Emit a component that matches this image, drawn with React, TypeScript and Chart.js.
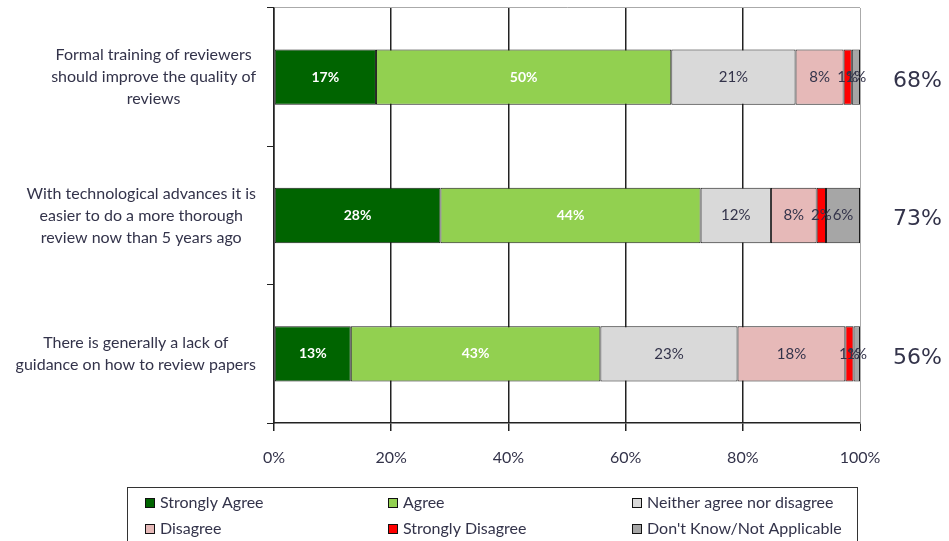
import React, { useEffect, useRef } from 'react';
import { Chart, registerables } from 'chart.js';

Chart.register(...registerables);

const categories: string[][] = [
  ['Formal training of reviewers', 'should improve the quality of', 'reviews'],
  ['With technological advances it is', 'easier to do a more thorough', 'review now than 5 years ago'],
  ['There is generally a lack of', 'guidance on how to review papers'],
];

const seriesNames = [
  'Strongly Agree',
  'Agree',
  'Neither agree nor disagree',
  'Disagree',
  'Strongly Disagree',
  "Don't Know/Not Applicable",
];

const stronglyAgree = [17.4, 28.4, 13.1];
const agree = [50.4, 44.4, 42.6];
const neither = [21.2, 12.0, 23.4];
const disagree = [8.2, 7.8, 18.4];
const stronglyDisagree = [1.4, 1.6, 1.4];
const dontKnow = [1.4, 5.8, 1.1];

const xTicks = [0, 20, 40, 60, 80, 100];

const seriesColors = ['#006400', '#92D050', '#D9D9D9', '#E6B9B8', '#FF0000', '#A6A6A6'];

const TEXT = '#33334a';
const FONT = 'Lato, "DejaVu Sans", sans-serif';

const catLabels = {
  id: 'catLabels',
  afterDraw(chart: any) {
    const ctx = chart.ctx;
    const ys = chart.scales.y;
    const rightEdge = ys.right - 18;
    const lineH = 22;
    ctx.save();
    ctx.font = `16px ${FONT}`;
    ctx.fillStyle = TEXT;
    ctx.textAlign = 'center';
    ctx.textBaseline = 'middle';
    (chart.data.labels as string[][]).forEach((lines, i) => {
      const yc = ys.getPixelForTick(i);
      const widest = Math.max(...lines.map((l) => ctx.measureText(l).width));
      const cx = rightEdge - widest / 2;
      const y0 = yc - ((lines.length - 1) * lineH) / 2;
      lines.forEach((l, k) => ctx.fillText(l, cx, y0 + k * lineH));
    });
    ctx.restore();
  },
};

const segLabels = {
  id: 'segLabels',
  afterDatasetsDraw(chart: any) {
    const ctx = chart.ctx;
    chart.data.datasets.forEach((ds: any, di: number) => {
      const meta = chart.getDatasetMeta(di);
      meta.data.forEach((el: any, i: number) => {
        const v = ds.data[i];
        const p = el.getProps(['x', 'y', 'base'], true);
        const cx = (p.x + p.base) / 2;
        ctx.save();
        ctx.font = di < 2 ? `bold 14px ${FONT}` : `15px ${FONT}`;
        ctx.fillStyle = di < 2 ? '#ffffff' : TEXT;
        ctx.textAlign = 'center';
        ctx.textBaseline = 'middle';
        ctx.fillText(Math.round(v) + '%', cx, p.y);
        ctx.restore();
      });
    });
    // totals of agree + strongly agree on the right
    const meta0 = chart.getDatasetMeta(0);
    meta0.data.forEach((el: any, i: number) => {
      const total = Math.round(stronglyAgree[i] + agree[i]);
      ctx.save();
      ctx.font = `22px "DejaVu Sans", Verdana, sans-serif`;
      ctx.fillStyle = TEXT;
      ctx.textAlign = 'left';
      ctx.textBaseline = 'middle';
      ctx.fillText(total + '%', chart.chartArea.right + 33, el.y + 4);
      ctx.restore();
    });
  },
};

const boxLegend = {
  id: 'boxLegend',
  afterDraw(chart: any) {
    const ctx = chart.ctx;
    const left = 127;
    const top = 487;
    const right = 857;
    ctx.save();
    ctx.strokeStyle = '#333333';
    ctx.lineWidth = 1;
    ctx.strokeRect(left + 0.5, top + 0.5, right - left, 80);
    const cols = [left + 18, left + 261, left + 505];
    const rows = [top + 16, top + 42];
    chart.data.datasets.forEach((ds: any, di: number) => {
      const cx = cols[di % 3];
      const cy = rows[Math.floor(di / 3)];
      ctx.fillStyle = ds.backgroundColor;
      ctx.fillRect(cx, cy - 5, 10, 10);
      ctx.strokeStyle = '#111111';
      ctx.strokeRect(cx + 0.5, cy - 4.5, 9, 9);
      ctx.fillStyle = TEXT;
      ctx.font = `16px ${FONT}`;
      ctx.textAlign = 'left';
      ctx.textBaseline = 'middle';
      ctx.fillText(ds.label, cx + 15, cy);
    });
    ctx.restore();
  },
};

export default function App() {
  const ref = useRef<HTMLCanvasElement | null>(null);
  useEffect(() => {
    document.body.style.margin = '0';
    if (!ref.current) return;
    const series = [stronglyAgree, agree, neither, disagree, stronglyDisagree, dontKnow];
    const chart = new Chart(ref.current, {
      type: 'bar',
      data: {
        labels: categories,
        datasets: series.map((d, i) => ({
          label: seriesNames[i],
          data: d,
          backgroundColor: seriesColors[i],
          borderColor: '#1a1a1a',
          borderWidth: 1,
          borderSkipped: false,
          barPercentage: 0.8,
          categoryPercentage: 0.5,
        })),
      },
      options: {
        indexAxis: 'y',
        responsive: false,
        animation: false,
        devicePixelRatio: 1,
        layout: { padding: { left: 0, right: 89, top: 8, bottom: 63 } },
        plugins: {
          legend: { display: false },
          tooltip: { enabled: false },
        },
        scales: {
          x: {
            stacked: true,
            min: 0,
            max: 100,
            afterBuildTicks: (s: any) => {
              s.ticks = xTicks.map((v) => ({ value: v }));
            },
            afterFit: (s: any) => {
              s.height = 55;
            },
            ticks: {
              callback: (v: any) => v + '%',
              font: { family: FONT, size: 16 },
              color: TEXT,
              padding: 17,
            },
            grid: {
              color: (c: any) => (c.tick && c.tick.value === 100 ? '#aaaaaa' : '#222222'),
              lineWidth: (c: any) => (c.tick && c.tick.value === 100 ? 1 : 1.5),
              tickColor: '#222222',
              tickLength: 8,
            },
            border: { color: '#222222', width: 1.5 },
          },
          y: {
            stacked: true,
            afterFit: (s: any) => {
              s.width = 274;
              s.paddingTop = 0;
              s.paddingBottom = 0;
            },
            ticks: {
              display: false,
            },
            grid: {
              offset: true,
              color: (c: any) => (c.index === 0 ? '#aaaaaa' : 'rgba(0,0,0,0)'),
              tickColor: '#222222',
              tickLength: 7,
            },
            border: { color: '#222222', width: 1.5 },
          },
        },
      } as any,
      plugins: [segLabels, catLabels, boxLegend],
    });
    return () => chart.destroy();
  }, []);
  return (
    <div style={{ width: 949, height: 541 }}>
      <canvas ref={ref} width={949} height={541} style={{ display: 'block' }} />
    </div>
  );
}
